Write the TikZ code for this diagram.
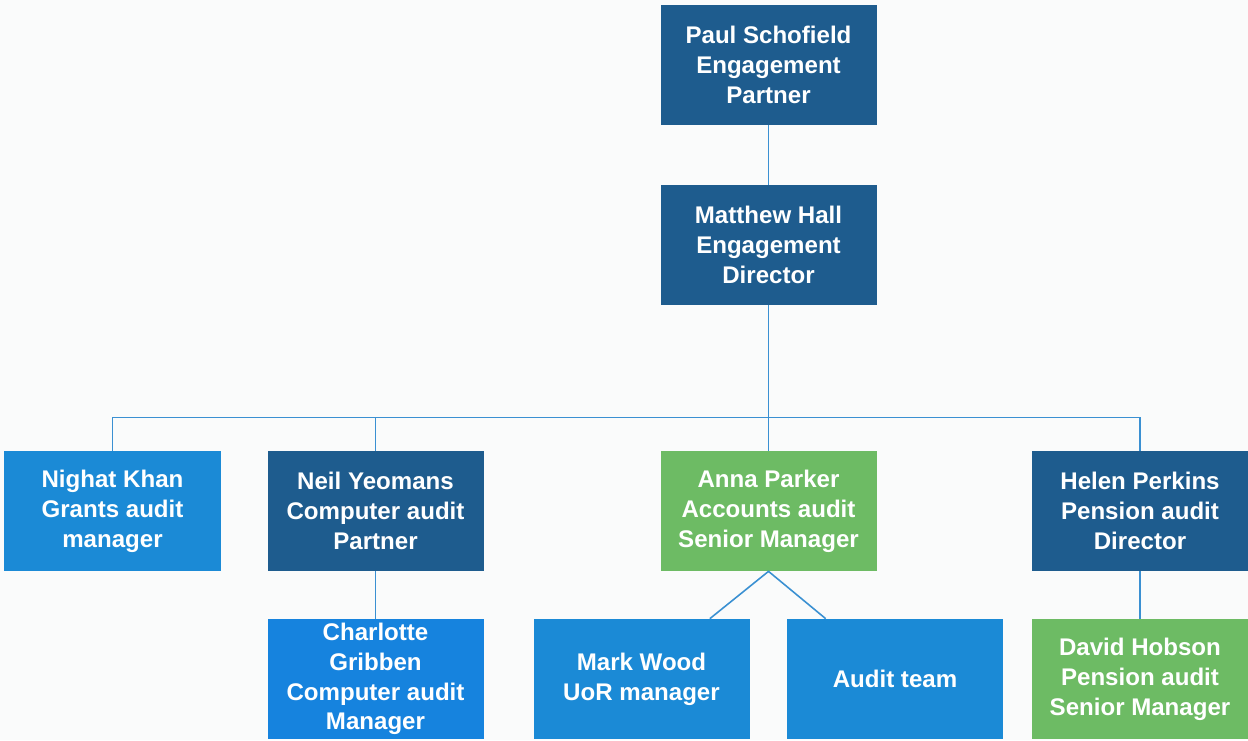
\documentclass[tikz,border=0pt]{standalone}
\usepackage{fontspec}
\setmainfont{Liberation Sans}
\usepackage{xcolor}
\usepackage{tikz}
\definecolor{paper}{HTML}{FAFBFB}
\definecolor{navy}{HTML}{1E5C8E}
\definecolor{sky}{HTML}{1B8AD6}
\definecolor{sky2}{HTML}{1683DE}
\definecolor{leaf}{HTML}{6DBB64}
\definecolor{wire}{HTML}{3A90D2}
\tikzset{
  box/.style={minimum width=4.32cm, minimum height=2.4cm, inner sep=0pt,
    align=center, text=white, font=\bfseries\fontsize{13.7}{17}\selectfont},
  senior/.style={box, fill=navy},
  staff/.style={box, fill=sky},
  lead/.style={box, fill=leaf},
  link/.style={draw=wire, line width=0.9pt},
}

\begin{document}
\begin{tikzpicture}
  % page 1248 x 740 px at 0.02 cm per px
  \fill[paper] (0,0) rectangle (24.96,-14.8);
  \useasboundingbox (0,0) rectangle (24.96,-14.8);

  % top of the tree
  \node[senior] (paul)    at (15.37,-1.30) {Paul Schofield\\Engagement\\Partner};
  \node[senior] (matthew) at (15.37,-4.90) {Matthew Hall\\Engagement\\Director};

  % second row
  \node[staff]  (nighat) at (2.25,-10.22)  {Nighat Khan\\Grants audit\\manager};
  \node[senior] (neil)   at (7.51,-10.22)  {Neil Yeomans\\Computer audit\\Partner};
  \node[lead]   (anna)   at (15.37,-10.22) {Anna Parker\\Accounts audit\\Senior Manager};
  \node[senior] (helen)  at (22.80,-10.22) {Helen Perkins\\Pension audit\\Director};

  % third row
  \node[staff, fill=sky2] (charlotte) at (7.51,-13.58)  {Charlotte\\Gribben\\Computer audit\\Manager};
  \node[staff]            (mark)      at (12.83,-13.58) {Mark Wood\\UoR manager};
  \node[staff]            (team)      at (17.90,-13.58) {Audit team};
  \node[lead]             (david)     at (22.80,-13.58) {David Hobson\\Pension audit\\Senior Manager};

  % connectors
  \draw[link] (paul.south) -- (matthew.north);
  \draw[link] (matthew.south) -- ++(0,-2.24) coordinate (bus);
  \draw[link] (nighat.north) |- (bus) -| (helen.north);
  \draw[link] (neil.north) -- (neil.north |- bus);
  \draw[link] (bus) -- (anna.north);
  \draw[link] (neil.south) -- (charlotte.north);
  \draw[link] (helen.south) -- (david.north);
  \draw[link] ([xshift=-8mm]mark.north east) -- (anna.south) -- ([xshift=7.8mm]team.north west);
\end{tikzpicture}
\end{document}
